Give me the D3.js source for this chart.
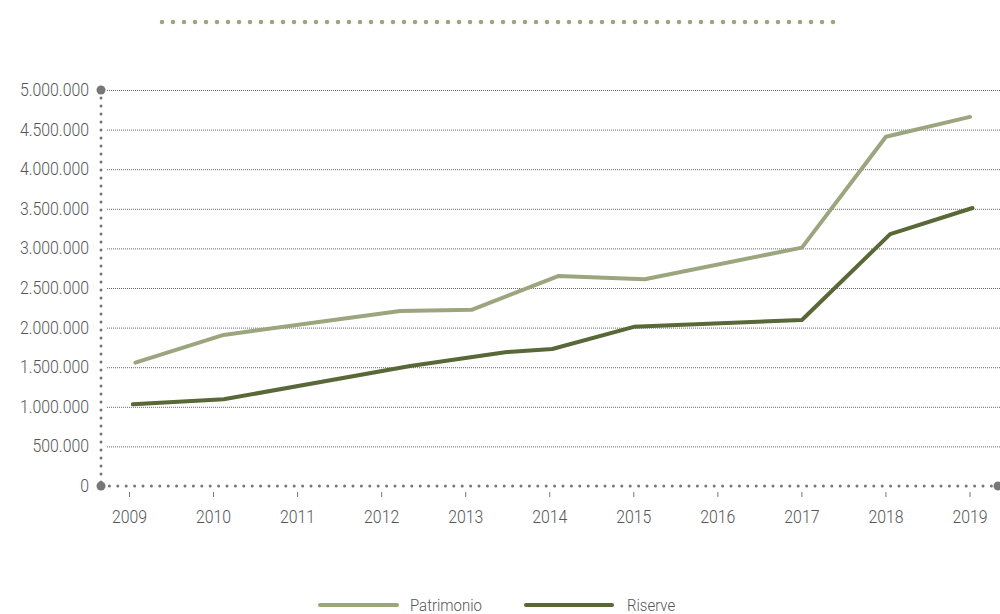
<!DOCTYPE html>
<html lang="it">
<head>
<meta charset="UTF-8">
<title>Patrimonio e Riserve</title>
<script src="https://cdn.jsdelivr.net/npm/d3@7/dist/d3.min.js"></script>
<style>
    *{margin:0;padding:0}
    body{background:#fff;overflow:hidden}
    text{font-family:Roboto,"Noto Sans",sans-serif;font-weight:300;fill:#555}
</style>
</head>
<body>
<div id="chart"></div>
<script>
    // anni sull'asse x
    var years = [2009, 2010, 2011, 2012, 2013, 2014, 2015, 2016, 2017, 2018, 2019];
    var yTicks = [0, 500000, 1000000, 1500000, 2000000, 2500000, 3000000, 3500000, 4000000, 4500000, 5000000];

    // punti (anno decimale, valore)
    var patrimonioX = [2009.07, 2010.12, 2012.22, 2013.07, 2014.10, 2015.13, 2017.00, 2018.00, 2019.00];
    var patrimonioY = [1557000, 1907000, 2210000, 2225000, 2650000, 2610000, 3010000, 4410000, 4660000];
    var riserveX = [2009.04, 2010.12, 2012.34, 2013.47, 2014.03, 2015.00, 2017.00, 2018.05, 2019.03];
    var riserveY = [1032000, 1095000, 1515000, 1690000, 1730000, 2010000, 2096000, 3180000, 3510000];

    var seriesNames = ['Patrimonio', 'Riserve'];
    var colors = ['#9ca67e', '#586837'];

    var W = 1000, H = 614;
    var SX = 0.88; // testo "condensed"

    var svg = d3.select('#chart').append('svg')
        .attr('width', W).attr('height', H);

    var x = d3.scaleLinear().domain([2009, 2019]).range([129.5, 970]);
    var y = d3.scaleLinear().domain([0, 5000000]).range([486, 90]);

    var it = d3.formatLocale({decimal: ',', thousands: '.', grouping: [3], currency: ['€', '']});
    var fmt = it.format(',d');

    function condText(sel, px, py, anchor, size) {
        sel.attr('transform', 'scale(' + SX + ',1)')
            .attr('x', px / SX).attr('y', py)
            .attr('text-anchor', anchor)
            .style('font-size', size + 'px');
        return sel;
    }

    // linea puntinata in alto
    svg.append('line')
        .attr('x1', 162).attr('x2', 842).attr('y1', 22).attr('y2', 22)
        .attr('stroke', '#9ca67e').attr('stroke-width', 4.5)
        .attr('stroke-linecap', 'round').attr('stroke-dasharray', '0 11');

    // griglia
    svg.append('g').selectAll('line')
        .data(yTicks.filter(function (d) { return d > 0; }))
        .enter().append('line')
        .attr('x1', 107).attr('x2', W)
        .attr('y1', function (d) { return y(d) + 0.5; })
        .attr('y2', function (d) { return y(d) + 0.5; })
        .attr('stroke', '#666').attr('stroke-width', 1)
        .attr('stroke-dasharray', '1 1');

    // etichette asse y
    svg.append('g').selectAll('text')
        .data(yTicks).enter().append('text')
        .each(function (d) {
            condText(d3.select(this), 89, y(d) + 6, 'end', 18);
        })
        .text(function (d) { return fmt(d); });

    // asse y e asse x puntinati
    svg.append('line')
        .attr('x1', 101).attr('x2', 101).attr('y1', y(5000000)).attr('y2', y(0))
        .attr('stroke', '#777').attr('stroke-width', 3)
        .attr('stroke-linecap', 'round').attr('stroke-dasharray', '0 8');
    svg.append('line')
        .attr('x1', 101).attr('x2', 998).attr('y1', y(0)).attr('y2', y(0))
        .attr('stroke', '#777').attr('stroke-width', 3)
        .attr('stroke-linecap', 'round').attr('stroke-dasharray', '0 8.4');
    svg.append('g').selectAll('circle')
        .data([[101, y(5000000)], [101, y(0)], [998, y(0)]])
        .enter().append('circle')
        .attr('cx', function (d) { return d[0]; })
        .attr('cy', function (d) { return d[1]; })
        .attr('r', 4.5).attr('fill', '#777');

    // tacche e anni
    var xg = svg.append('g');
    xg.selectAll('line').data(years).enter().append('line')
        .attr('x1', function (d) { return x(d); })
        .attr('x2', function (d) { return x(d); })
        .attr('y1', 492).attr('y2', 497)
        .attr('stroke', '#777').attr('stroke-width', 1);
    xg.selectAll('text').data(years).enter().append('text')
        .each(function (d) {
            condText(d3.select(this), x(d), 523, 'middle', 18);
        })
        .text(function (d) { return d; });

    // linee
    var series = [
        d3.zip(patrimonioX, patrimonioY),
        d3.zip(riserveX, riserveY)
    ];
    var line = d3.line()
        .x(function (d) { return x(d[0]); })
        .y(function (d) { return y(d[1]); });

    svg.append('g').selectAll('path')
        .data(series).enter().append('path')
        .attr('d', line)
        .attr('fill', 'none')
        .attr('stroke', function (d, i) { return colors[i]; })
        .attr('stroke-width', 4)
        .attr('stroke-linejoin', 'round')
        .attr('stroke-linecap', 'round');

    // legenda
    var legendPos = [[320, 397, 410], [526, 612, 627]];
    var lg = svg.append('g').selectAll('g')
        .data(seriesNames).enter().append('g');
    lg.append('line')
        .attr('x1', function (d, i) { return legendPos[i][0]; })
        .attr('x2', function (d, i) { return legendPos[i][1]; })
        .attr('y1', 605).attr('y2', 605)
        .attr('stroke', function (d, i) { return colors[i]; })
        .attr('stroke-width', 4).attr('stroke-linecap', 'round');
    lg.append('text')
        .each(function (d, i) {
            condText(d3.select(this), legendPos[i][2], 611, 'start', 17);
        })
        .text(function (d) { return d; });
</script>
</body>
</html>
